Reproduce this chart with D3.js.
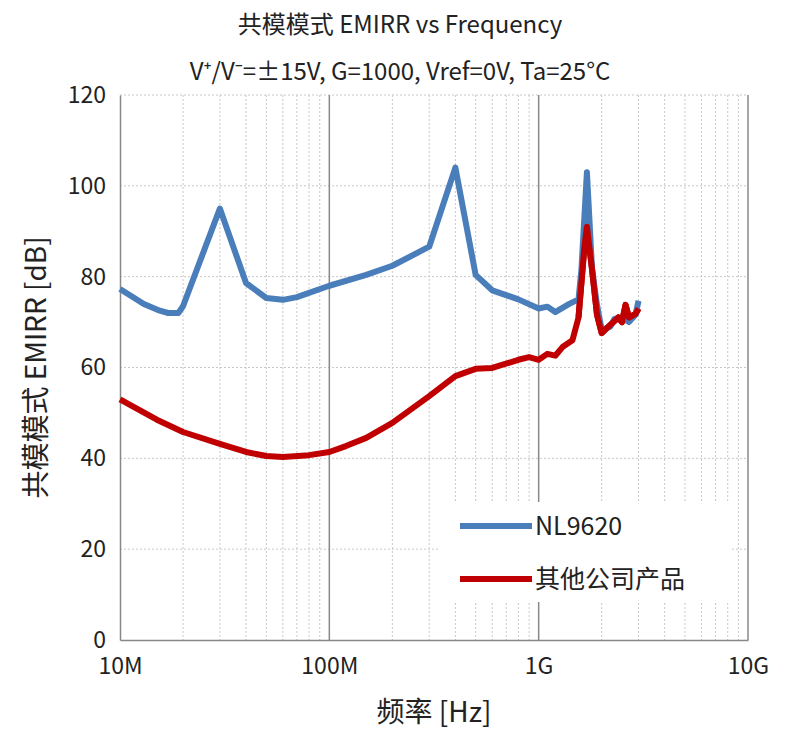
<!DOCTYPE html>
<html><head><meta charset="utf-8">
<script src="https://cdn.jsdelivr.net/npm/d3@7"></script>
<style>body{margin:0;background:#fff}text{font-family:"Noto Sans CJK SC","Noto Sans",sans-serif}</style>
</head><body><div id="chart"></div>
<script>
// data (Hz, dB)
const blueFreq = [10e6,13e6,15.5e6,17e6,19e6,20e6,30e6,40e6,50e6,60e6,70e6,100e6,150e6,200e6,300e6,400e6,500e6,600e6,800e6,1e9,1.1e9,1.2e9,1.4e9,1.55e9,1.6e9,1.7e9,1.8e9,1.9e9,2.0e9,2.2e9,2.3e9,2.5e9,2.7e9,2.9e9,3.0e9];
const blueDb   = [77.3,74,72.5,72,72,73.5,95,78.6,75.3,74.9,75.5,78,80.4,82.4,86.6,104,80.4,77,75,73,73.4,72.2,74,75,81.5,103,81.5,73.8,68.3,69,70.7,71,70,71.6,74.7];
const redFreq  = [10e6,15e6,20e6,30e6,40e6,50e6,60e6,80e6,100e6,120e6,150e6,200e6,300e6,400e6,500e6,600e6,800e6,900e6,1e9,1.1e9,1.2e9,1.3e9,1.45e9,1.55e9,1.65e9,1.7e9,1.8e9,1.9e9,2.0e9,2.2e9,2.4e9,2.5e9,2.6e9,2.7e9,2.9e9,3.0e9];
const redDb    = [53,48.5,45.8,43.2,41.4,40.5,40.3,40.7,41.4,42.7,44.5,47.8,53.7,58.1,59.7,59.9,61.7,62.3,61.7,63,62.6,64.5,66,71,86,91,81.5,71.6,67.6,69.4,71,70,73.8,71,71.8,73];
const seriesNames = ["NL9620", "其他公司产品"];
const xTickLabels = ["10M", "100M", "1G", "10G"];
const yTicks = [0, 20, 40, 60, 80, 100, 120];

const margin = {top: 95, left: 120, right: 52, bottom: 100},
  width = 800 - margin.left - margin.right,
  height = 740 - margin.top - margin.bottom;

const svg = d3.select('#chart').append('svg').attr('width', 800).attr('height', 740);

svg.append('text').attr('x', 400).attr('y', 33).attr('text-anchor', 'middle')
  .attr('font-size', 24).attr('fill', '#222').text('共模模式 EMIRR vs Frequency');
svg.append('text').attr('x', 400).attr('y', 80).attr('text-anchor', 'middle')
  .attr('font-size', 24).attr('fill', '#222').text('V⁺/V⁻=±15V, G=1000, Vref=0V, Ta=25°C');

const g = svg.append('g').attr('transform', `translate(${margin.left},${margin.top})`);
const x = d3.scaleLog().domain([1e7, 1e10]).range([0, width]);
const y = d3.scaleLinear().domain([0, 120]).range([height, 0]);

// minor vertical grid
const minor = [];
for (let e = 7; e < 10; e++) for (let m = 2; m < 10; m++) minor.push(m * Math.pow(10, e));
g.selectAll('.vminor').data(minor).enter().append('line')
  .attr('x1', d => x(d)).attr('x2', d => x(d)).attr('y1', 0).attr('y2', height)
  .attr('stroke', '#c8c8c8').attr('stroke-dasharray', '2,2');
g.selectAll('.hgrid').data(yTicks.slice(1)).enter().append('line')
  .attr('x1', 0).attr('x2', width).attr('y1', d => y(d)).attr('y2', d => y(d))
  .attr('stroke', '#c8c8c8').attr('stroke-dasharray', '2,2');
g.selectAll('.vmajor').data([1e8, 1e9, 1e10]).enter().append('line')
  .attr('x1', d => x(d)).attr('x2', d => x(d)).attr('y1', 0).attr('y2', height)
  .attr('stroke', '#888').attr('stroke-width', 1.5);

const yAxis = g.append('g').call(d3.axisLeft(y).tickValues(yTicks).tickSize(0).tickPadding(14));
yAxis.select('.domain').attr('stroke', '#888').attr('stroke-width', 1.5);
yAxis.selectAll('text').attr('font-size', 23).attr('fill', '#222');
const xAxis = g.append('g').attr('transform', `translate(0,${height})`)
  .call(d3.axisBottom(x).tickValues([1e7, 1e8, 1e9, 1e10]).tickFormat((d, i) => xTickLabels[i]).tickSize(0).tickPadding(18));
xAxis.select('.domain').attr('stroke', '#888').attr('stroke-width', 1.5);
xAxis.selectAll('text').attr('font-size', 23).attr('fill', '#222');

svg.append('text').attr('x', margin.left + width / 2).attr('y', 722).attr('text-anchor', 'middle')
  .attr('font-size', 28).attr('fill', '#222').text('频率 [Hz]');
svg.append('text').attr('transform', `translate(46,${margin.top + height / 2}) rotate(-90)`)
  .attr('text-anchor', 'middle').attr('font-size', 28).attr('fill', '#222').text('共模模式 EMIRR [dB]');

const line = d3.line().x(d => x(d[0])).y(d => y(d[1])).curve(d3.curveLinear);
g.append('path').datum(d3.zip(redFreq, redDb)).attr('d', line).attr('fill', 'none')
  .attr('stroke', '#c00000').attr('stroke-width', 6).attr('stroke-linejoin', 'round');
g.append('path').datum(d3.zip(blueFreq, blueDb)).attr('d', line).attr('fill', 'none')
  .attr('stroke', '#4a7ebb').attr('stroke-width', 6).attr('stroke-linejoin', 'round');
// red drawn last near the resonance, as in the reference
g.append('path').datum(d3.zip(redFreq, redDb).filter(d => d[0] >= 1.5e9)).attr('d', line).attr('fill', 'none')
  .attr('stroke', '#c00000').attr('stroke-width', 6).attr('stroke-linejoin', 'round');

// legend
const leg = svg.append('g').attr('transform', 'translate(440,502)');
leg.append('rect').attr('width', 290).attr('height', 100).attr('fill', '#fff');
const colors = ['#4a7ebb', '#c00000'];
seriesNames.forEach((n, i) => {
  leg.append('line').attr('x1', 20).attr('x2', 92).attr('y1', 24 + i * 53).attr('y2', 24 + i * 53)
    .attr('stroke', colors[i]).attr('stroke-width', 6);
  leg.append('text').attr('x', 95).attr('y', 24 + i * 53).attr('dy', '0.35em')
    .attr('font-size', 25).attr('fill', '#222').text(n);
});
</script></body></html>
